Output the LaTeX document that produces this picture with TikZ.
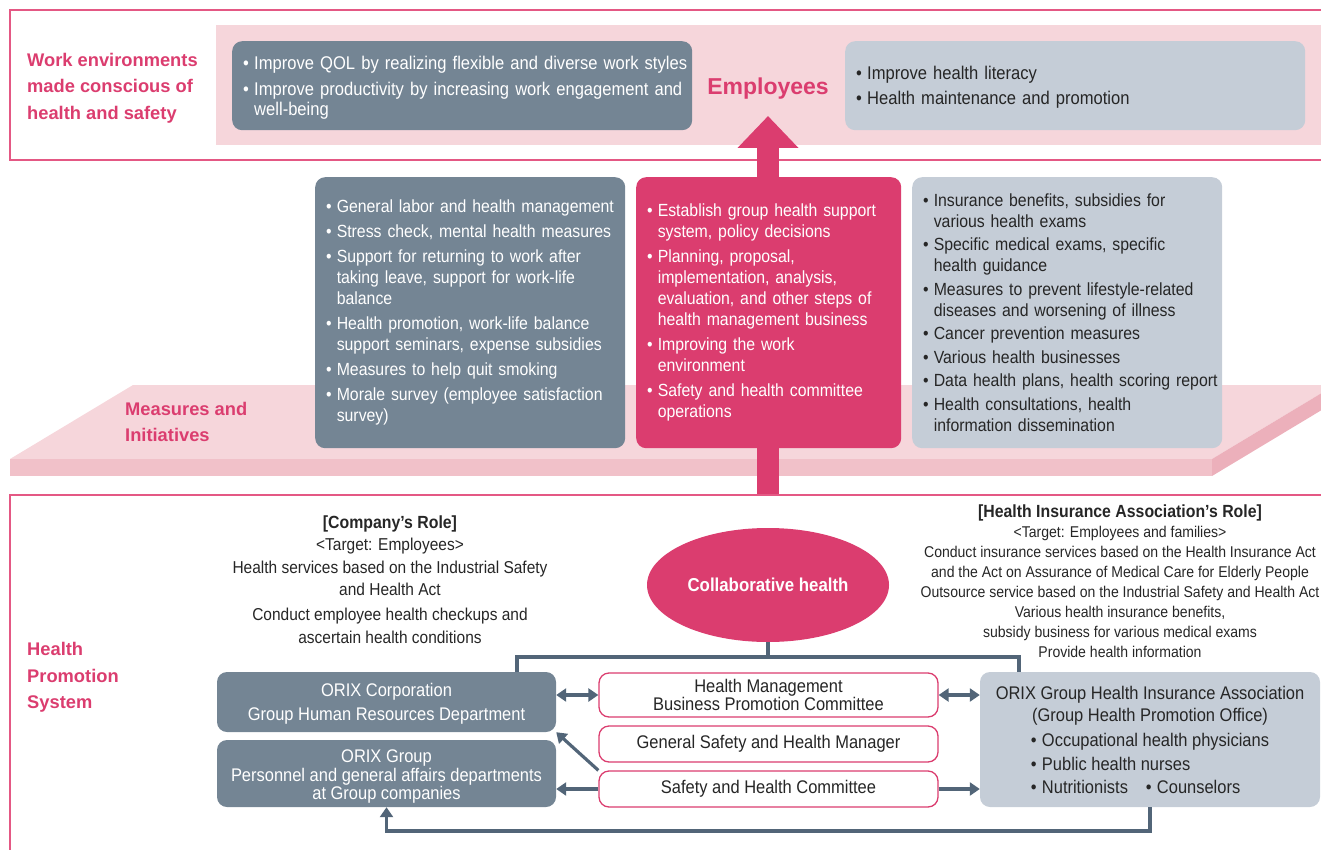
\documentclass[tikz,border=0pt]{standalone}
\usepackage{fontspec}
\setmainfont[FakeStretch=0.9]{Liberation Sans}
\newfontfamily\headfont{Liberation Sans}
\usetikzlibrary{arrows.meta,positioning,shapes.geometric}
\definecolor{hppink}{RGB}{219,61,111}
\definecolor{hpframe}{RGB}{228,88,132}
\definecolor{hpband}{RGB}{246,214,219}
\definecolor{hpfront}{RGB}{241,193,201}
\definecolor{hpside}{RGB}{236,176,187}
\definecolor{hpdark}{RGB}{116,133,148}
\definecolor{hplight}{RGB}{197,205,215}
\definecolor{hparrow}{RGB}{82,101,120}
\definecolor{hptext}{RGB}{38,38,38}
\newcommand{\fsz}[2]{\fontsize{#1}{#2}\selectfont}
\newcommand{\bul}{\makebox[0.6em][l]{\textbullet}}
\newcommand{\bitem}[1]{\hangindent=0.6em\hangafter=1\rightskip=-20pt plus 1fil\hyphenpenalty=10000\relax\bul#1\par}
\newcommand{\lift}[1]{\rule{0pt}{#1}}

\begin{document}
\begin{tikzpicture}[x=1pt, y=-1pt,
  frame/.style={draw=hpframe, line width=2pt},
  head/.style={font=\headfont\bfseries\fsz{18.3}{26.5}, text=hppink, align=left, anchor=west, inner sep=0pt},
  box/.style={rounded corners=10pt, inner xsep=11pt, inner ysep=0pt},
  darkbox/.style={box, fill=hpdark, text=white},
  lightbox/.style={box, fill=hplight, text=hptext},
  blist/.style={align=left, execute at begin node={\setlength{\parskip}{#1}}},
  blist/.default=4pt,
  rolebox/.style={box, draw=hppink, line width=1.3pt, fill=white, text=hptext, align=center, minimum width=339pt, font=\fsz{18.3}{18}},
  roletext/.style={align=center, text=hptext, inner sep=0pt},
  link/.style={line width=3.2pt, hparrow},
  arr/.style={link, -{Triangle[width=13pt,length=10pt]}},
  darr/.style={link, {Triangle[width=13pt,length=10pt]}-{Triangle[width=13pt,length=10pt]}}]
\useasboundingbox (0,0) rectangle (1321,850);
% Top: work environments
\draw[frame] (1330,10) -| (10,160) -- (1330,160);
\fill[hpband] (216,25) rectangle (1325,145);
\node[head] (workenv) at (27,88) {Work environments\\made conscious of\\health and safety};
\node[darkbox, blist=6pt, font=\fsz{18.4}{20}, text width=438pt, minimum height=89pt, anchor=north west] (qol) at (232,41)
  {\bitem{\lift{17pt}Improve QOL by realizing flexible and diverse work styles}\bitem{Improve productivity by increasing work engagement and\newline well-being}};
\node[head, font=\headfont\bfseries\fsz{23}{26}, anchor=center] (emp) at (768,89) {Employees};
\node[lightbox, blist=5pt, font=\fsz{18.4}{20}, text width=438pt, minimum height=89pt, anchor=north west] (literacy) at (845,41)
  {\bitem{\lift{17pt}Improve health literacy}\bitem{Health maintenance and promotion}};
% Middle: measures platform
\fill[hpband] (10,459) -- (133,385) -- (1335,385) -- (1212,459) -- cycle;
\fill[hpfront] (10,459) rectangle (1212,476);
\fill[hpside] (1212,459) -- (1335,385) -- (1335,402) -- (1212,476) -- cycle;
\node[head] (measures) at (125,422) {Measures and\\Initiatives};
\coordinate (up) at (768,495);
\coordinate (emptip) at (768,116);
\draw[hppink, line width=22pt, -{Triangle[width=59pt,length=32pt]}] (up) -- (emptip);
\node[darkbox, blist, font=\fsz{17.6}{21}, text width=288pt, minimum height=271pt, anchor=north west] (labor) at (315,177)
  {\bitem{General labor and health management}\bitem{Stress check, mental health measures}%
   \bitem{Support for returning to work after\newline taking leave, support for work-life\newline balance}%
   \bitem{Health promotion, work-life balance\newline support seminars, expense subsidies}%
   \bitem{Measures to help quit smoking}\bitem{Morale survey (employee satisfaction\newline survey)}};
\node[box, fill=hppink, text=white, blist, font=\fsz{17.6}{21}, text width=243pt, minimum height=271pt, anchor=north west] (policy) at (636,177)
  {\bitem{Establish group health support\newline system, policy decisions}%
   \bitem{Planning, proposal,\newline implementation, analysis,\newline evaluation, and other steps of\newline health management business}%
   \bitem{Improving the work\newline environment}\bitem{Safety and health committee\newline operations}};
\node[lightbox, blist=2.5pt, font=\fsz{17.6}{21}, text width=288pt, minimum height=271pt, anchor=north west] (benefits) at (912,177)
  {\bitem{Insurance benefits, subsidies for\newline various health exams}%
   \bitem{Specific medical exams, specific\newline health guidance}%
   \bitem{Measures to prevent lifestyle-related\newline diseases and worsening of illness}%
   \bitem{Cancer prevention measures}\bitem{Various health businesses}%
   \bitem{Data health plans, health scoring report}%
   \bitem{Health consultations, health\newline information dissemination}};
% Bottom: health promotion system
\draw[frame] (1330,495) -| (10,860);
\node[head] (hps) at (27,677.5) {Health\\Promotion\\System};
\node[roletext, font=\fsz{17.2}{22.5}] (comprole) at (390,579.5)
  {{\bfseries\fsz{17.6}{22.5}[Company’s Role]}\\<Target: Employees>\\Health services based on the Industrial Safety\\and Health Act\\[2.5pt]Conduct employee health checkups and\\ascertain health conditions};
\node[roletext, font=\fsz{15.6}{20}] (hiarole) at (1120,581)
  {{\bfseries\fsz{17.6}{22}[Health Insurance Association’s Role]}\\<Target: Employees and families>\\Conduct insurance services based on the Health Insurance Act\\and the Act on Assurance of Medical Care for Elderly People\\Outsource service based on the Industrial Safety and Health Act\\Various health insurance benefits,\\subsidy business for various medical exams\\Provide health information};
\node[ellipse, fill=hppink, text=white, font=\bfseries\fsz{18.7}{20}, minimum width=242pt, minimum height=114pt, inner sep=0pt] (collab) at (768,585) {Collaborative health};
\node[darkbox, align=center, minimum width=339pt, minimum height=60pt, font=\fsz{18.3}{24}] (corp) at (386.5,702)
  {\lift{16pt}ORIX Corporation\\Group Human Resources Department};
\node[darkbox, align=center, minimum width=339pt, minimum height=67pt, font=\fsz{18.3}{18.5}] (grp) at (386.5,773.5)
  {\lift{19pt}ORIX Group\\Personnel and general affairs departments\\at Group companies};
\node[rolebox, minimum height=44pt] (hmbpc) at (768.5,695) {Health Management\\Business Promotion Committee};
\node[rolebox, minimum height=36pt] (gshm) at (768.5,744) {General Safety and Health Manager};
\node[rolebox, minimum height=36pt] (shc) at (768.5,789) {Safety and Health Committee};
\node[lightbox, align=center, minimum width=340pt, minimum height=135pt, font=\fsz{18.3}{22}] (hia) at (1150,739.5)
  {\lift{22pt}ORIX Group Health Insurance Association\\(Group Health Promotion Office)\\[3pt]
   \renewcommand{\arraystretch}{1.08}%
   \begin{tabular}{@{}l@{}}\bul Occupational health physicians\\\bul Public health nurses\\\bul Nutritionists\hspace{18pt}\bul Counselors\end{tabular}};
% connectors
\coordinate (jn) at (768,657);
\coordinate (jl) at (517,657);
\coordinate (jr) at (1019,657);
\coordinate (fb) at (0,831);
\draw[link] (collab.south) -- (jn);
\draw[link] (corp.north -| jl) -- (jl) -- (jr) -- (hia.north -| jr);
\draw[darr] (hmbpc.west -| corp.east) -- (hmbpc.west);
\draw[darr] (hmbpc.east) -- (hmbpc.east -| hia.west);
\draw[arr] (shc.north west) -- (corp.south east);
\draw[arr] (shc.west) -- (shc.west -| grp.east);
\draw[arr] (shc.east) -- (shc.east -| hia.west);
\draw[arr] (hia.south) |- (grp.south |- fb) -- (grp.south);
\end{tikzpicture}
\end{document}
